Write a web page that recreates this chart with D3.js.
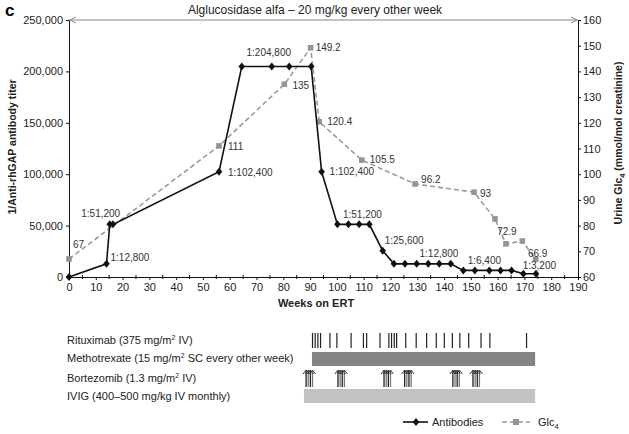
<!DOCTYPE html>
<html>
<head>
<meta charset="utf-8">
<script src="https://cdn.jsdelivr.net/npm/d3@7"></script>
<style>
  body { margin: 0; background: #fff; }
  svg { font-family: Arial, "Liberation Sans", sans-serif; }
</style>
</head>
<body>
<div id="chart"></div>
<script>
// antibody titers (1/titer) by week on ERT
const abWeeks = [0, 14, 15.2, 16.4, 56, 64.5, 75.7, 82.2, 90.4, 94.3, 100.2, 104.3, 108.3, 112.1, 117.1, 121.3, 125.4, 129.8, 134.1, 138.2, 142.5, 147.2, 151.5, 156.9, 161.1, 165.2, 169.6, 174.3];
const abTiters = [0, 12800, 51200, 51200, 102400, 204800, 204800, 204800, 204800, 102400, 51200, 51200, 51200, 51200, 25600, 12800, 12800, 12800, 12800, 12800, 12800, 6400, 6400, 6400, 6400, 6400, 3200, 3200];
const abLabelIdx = [1, 2, 4, 5, 9, 10, 14, 15, 21, 26];

// urine Glc4
const glcWeeks = [0, 56, 80.4, 90.2, 93.4, 109.3, 129.2, 151.2, 159, 163.1, 169.2, 174.2];
const glcValues = [67, 111, 135, 149.2, 120.4, 105.5, 96.2, 93, 82.6, 72.9, 74, 66.9];
const glcLabelIdx = [0, 1, 2, 3, 4, 5, 6, 7, 9, 11];

// treatments
const rituximabWeeks = [90.9, 91.9, 92.9, 93.9, 97.4, 100, 105.3, 109.9, 111.1, 116.1, 119.4, 120.4, 121.4, 122.3, 125.7, 129.6, 133.5, 137.1, 140.1, 143.1, 145.9, 149.2, 153.8, 157.1, 170.8];
const methotrexateSpan = [90.7, 174];
const bortezomibWeeks = [88.5, 89.3, 90.1, 90.9, 100.4, 101.2, 102, 102.8, 117.6, 118.4, 119.2, 120, 125.3, 126.1, 126.9, 127.7, 143.3, 144.1, 144.9, 145.7, 150.8, 151.6, 152.4, 153.2];
const ivigSpan = [87.7, 174];

const xTicks = [0, 10, 20, 30, 40, 50, 60, 70, 80, 90, 100, 110, 120, 130, 140, 150, 160, 170, 180, 190];
const yLeftTicks = [0, 50000, 100000, 150000, 200000, 250000];
const yRightTicks = [60, 70, 80, 90, 100, 110, 120, 130, 140, 150, 160];

const W = 629, H = 434;
const svg = d3.select('#chart').append('svg').attr('width', W).attr('height', H);

const x = d3.scaleLinear().domain([0, 190]).range([69, 578]);
const yL = d3.scaleLinear().domain([0, 250000]).range([277, 20]);
const yR = d3.scaleLinear().domain([60, 160]).range([277, 20]);

// panel letter + title
svg.append('text').attr('x', 5).attr('y', 16).attr('font-size', 17).attr('font-weight', 'bold').text('c');
svg.append('text').attr('x', 315).attr('y', 14).attr('text-anchor', 'middle').attr('font-size', 12).attr('fill', '#222')
  .text('Alglucosidase alfa \u2013 20 mg/kg every other week');

// top double arrow
const arrowG = svg.append('g').attr('stroke', '#888').attr('fill', 'none').attr('stroke-width', 1);
arrowG.append('line').attr('x1', x(0)).attr('x2', x(190)).attr('y1', 20).attr('y2', 20);
arrowG.append('path').attr('d', `M${x(0) + 7},17 L${x(0) + 1},20 L${x(0) + 7},23`);
arrowG.append('path').attr('d', `M${x(190) - 7},17 L${x(190) - 1},20 L${x(190) - 7},23`);

// axes
const styleAxis = g => {
  g.attr('font-size', 11).attr('font-family', 'Arial, "Liberation Sans", sans-serif');
  g.selectAll('path, line').attr('stroke', '#111');
  g.selectAll('text').attr('fill', '#222');
};
svg.append('g').attr('transform', 'translate(0,277)')
  .call(d3.axisBottom(x).tickValues(xTicks).tickSize(3).tickSizeOuter(0).tickPadding(3))
  .call(styleAxis);
svg.append('g').attr('transform', 'translate(0,277)')
  .selectAll('line').data(xTicks.slice(0, -1)).join('line')
  .attr('x1', d => x(d + 5)).attr('x2', d => x(d + 5)).attr('y1', -2).attr('y2', 2).attr('stroke', '#111');
svg.append('g').attr('transform', `translate(${x(0)},0)`)
  .call(d3.axisLeft(yL).tickValues(yLeftTicks).tickFormat(d3.format(',')).tickSize(3).tickSizeOuter(0).tickPadding(3))
  .call(styleAxis);
svg.append('g').attr('transform', `translate(${x(190)},0)`)
  .call(d3.axisRight(yR).tickValues(yRightTicks).tickSize(3).tickSizeOuter(0).tickPadding(2))
  .call(styleAxis);

// axis titles
svg.append('text').attr('transform', 'translate(16,147) rotate(-90)').attr('text-anchor', 'middle')
  .attr('font-size', 10.5).attr('font-weight', 'bold').attr('fill', '#222').text('1/Anti-rhGAP antibody titer');
const rt = svg.append('text').attr('transform', 'translate(622,143) rotate(-90)').attr('text-anchor', 'middle')
  .attr('font-size', 10.5).attr('font-weight', 'bold').attr('fill', '#222');
rt.append('tspan').text('Urine Glc');
rt.append('tspan').attr('font-size', 7.5).attr('dy', 3).text('4');
rt.append('tspan').attr('dy', -3).text(' (mmol/mol creatinine)');
svg.append('text').attr('x', 316).attr('y', 307).attr('text-anchor', 'middle')
  .attr('font-size', 11).attr('font-weight', 'bold').attr('fill', '#222').text('Weeks on ERT');

// Glc4 series
const glcPts = glcWeeks.map((w, i) => ({ w, v: glcValues[i], i }));
svg.append('path').datum(glcPts)
  .attr('d', d3.line().x(d => x(d.w)).y(d => yR(d.v)))
  .attr('fill', 'none').attr('stroke', '#9a9a9a').attr('stroke-width', 1.6).attr('stroke-dasharray', '5,3');
svg.append('g').selectAll('rect').data(glcPts).join('rect')
  .attr('x', d => x(d.w) - 2.8).attr('y', d => yR(d.v) - 2.8).attr('width', 5.6).attr('height', 5.6)
  .attr('fill', '#949494');

// antibody series
const abPts = abWeeks.map((w, i) => ({ w, v: abTiters[i], i }));
svg.append('path').datum(abPts)
  .attr('d', d3.line().x(d => x(d.w)).y(d => yL(d.v)))
  .attr('fill', 'none').attr('stroke', '#111').attr('stroke-width', 1.6);
svg.append('g').selectAll('path').data(abPts).join('path')
  .attr('d', d => { const cx = x(d.w), cy = yL(d.v); return `M${cx},${cy - 4} L${cx + 3.3},${cy} L${cx},${cy + 4} L${cx - 3.3},${cy} Z`; })
  .attr('fill', '#111');

// labels
const abPlace = {1: [4, -6, 'start'], 2: [-9, -11, 'middle'], 4: [9, 1, 'start'], 5: [27, -14, 'middle'], 9: [8, 0, 'start'],
  10: [25, -10, 'middle'], 14: [2, -10, 'start'], 15: [45, -10, 'middle'], 21: [21, -10, 'middle'], 26: [16, -8, 'middle']};
svg.append('g').selectAll('text').data(abLabelIdx).join('text')
  .attr('x', i => x(abWeeks[i]) + abPlace[i][0]).attr('y', i => yL(abTiters[i]) + abPlace[i][1])
  .attr('text-anchor', i => abPlace[i][2]).attr('dominant-baseline', 'central')
  .attr('font-size', 10).attr('fill', '#333')
  .text(i => '1:' + d3.format(',')(abTiters[i]));

const glcPlace = {0: [4, -15, 'start'], 1: [9, 1, 'start'], 2: [8, 1, 'start'], 3: [5, 0, 'start'], 4: [8, 0, 'start'],
  5: [8, -1, 'start'], 6: [6, -4, 'start'], 7: [6, 1, 'start'], 9: [1, -12, 'middle'], 11: [2, -6, 'middle']};
svg.append('g').selectAll('text').data(glcLabelIdx).join('text')
  .attr('x', i => x(glcWeeks[i]) + glcPlace[i][0]).attr('y', i => yR(glcValues[i]) + glcPlace[i][1])
  .attr('text-anchor', i => glcPlace[i][2]).attr('dominant-baseline', 'central')
  .attr('font-size', 10).attr('fill', '#333')
  .text(i => String(glcValues[i]));

// treatment rows
const rows = [
  ['Rituximab (375 mg/m', '2', ' IV)', 340],
  ['Methotrexate (15 mg/m', '2', ' SC every other week)', 358],
  ['Bortezomib (1.3 mg/m', '2', ' IV)', 378],
  ['IVIG (400\u2013500 mg/kg IV monthly)', '', '', 396]
];
rows.forEach(r => {
  const t = svg.append('text').attr('x', 67).attr('y', r[3] + 4).attr('font-size', 11).attr('fill', '#222');
  t.append('tspan').text(r[0]);
  if (r[1]) {
    t.append('tspan').attr('font-size', 7).attr('dy', -4).text(r[1]);
    t.append('tspan').attr('dy', 4).text(r[2]);
  }
});

svg.append('g').selectAll('line').data(rituximabWeeks).join('line')
  .attr('x1', d => x(d)).attr('x2', d => x(d)).attr('y1', 333).attr('y2', 348)
  .attr('stroke', '#222').attr('stroke-width', 1.2);

svg.append('rect').attr('x', x(methotrexateSpan[0])).attr('width', x(methotrexateSpan[1]) - x(methotrexateSpan[0]))
  .attr('y', 352).attr('height', 14).attr('fill', '#848484');

const bz = svg.append('g').attr('fill', 'none').attr('stroke-width', 1);
bz.selectAll('line').data(bortezomibWeeks).join('line')
  .attr('x1', d => x(d)).attr('x2', d => x(d)).attr('y1', 371).attr('y2', 387)
  .attr('stroke', (d, i) => i % 2 ? '#777' : '#222').attr('stroke-width', 1.3);
bz.selectAll('path').data(bortezomibWeeks).join('path')
  .attr('d', d => `M${x(d) - 3},374 L${x(d)},370 L${x(d) + 3},374`)
  .attr('stroke', '#333');

svg.append('rect').attr('x', x(ivigSpan[0])).attr('width', x(ivigSpan[1]) - x(ivigSpan[0]))
  .attr('y', 389).attr('height', 14).attr('fill', '#c2c2c2');

// legend
const lg = svg.append('g');
lg.append('line').attr('x1', 403).attr('x2', 428).attr('y1', 422).attr('y2', 422).attr('stroke', '#111').attr('stroke-width', 1.6);
lg.append('path').attr('d', 'M416,418 L419.3,422 L416,426 L412.7,422 Z').attr('fill', '#111');
lg.append('text').attr('x', 432).attr('y', 426).attr('font-size', 11).attr('fill', '#222').text('Antibodies');
lg.append('line').attr('x1', 502).attr('x2', 530).attr('y1', 422).attr('y2', 422).attr('stroke', '#9a9a9a').attr('stroke-width', 1.6).attr('stroke-dasharray', '5,3');
lg.append('rect').attr('x', 513).attr('y', 419).attr('width', 6).attr('height', 6).attr('fill', '#949494');
const gt = lg.append('text').attr('x', 538).attr('y', 426).attr('font-size', 11).attr('fill', '#222');
gt.append('tspan').text('Glc');
gt.append('tspan').attr('font-size', 7.5).attr('dy', 3).text('4');
</script>
</body>
</html>
